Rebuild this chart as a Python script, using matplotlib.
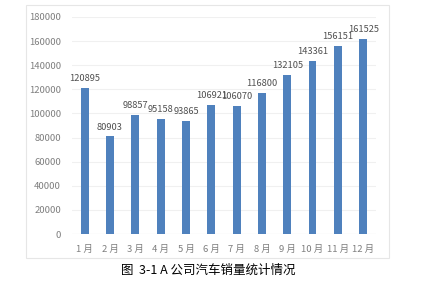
import matplotlib
matplotlib.use('Agg')
import matplotlib.pyplot as plt
from matplotlib.patches import Rectangle

plt.rcParams['font.family'] = ['Noto Sans CJK SC', 'DejaVu Sans']

months = ['1 月', '2 月', '3 月', '4 月', '5 月', '6 月', '7 月', '8 月', '9 月', '10 月', '11 月', '12 月']
sales = [120895, 80903, 98857, 95158, 93865, 106921, 106070, 116800, 132105, 143361, 156151, 161525]
yticks = [0, 20000, 40000, 60000, 80000, 100000, 120000, 140000, 160000, 180000]

fig = plt.figure(figsize=(4.29, 2.82), dpi=100)
fig.patches.append(Rectangle((0.061, 0.085), 0.846, 0.897, transform=fig.transFigure,
                             fill=False, edgecolor='#e6e6e6', linewidth=0.8))
ax = fig.add_axes([0.168, 0.170, 0.708, 0.770])

x = range(len(months))
ax.bar(x, sales, width=0.31, color='#4f81bd', zorder=3)
for i, v in enumerate(sales):
    ax.text(i, v + 4000, str(v), ha='center', va='bottom', fontsize=6.7, color='#505050', zorder=4)

ax.set_xlim(-0.5, 11.5)
ax.set_ylim(0, 180000)
ax.set_yticks(yticks)
ax.set_yticklabels([str(t) for t in yticks])
ax.set_xticks(list(x))
ax.set_xticklabels(months)
ax.tick_params(axis='both', length=0, labelsize=6.8, labelcolor='#7f7f7f')
ax.tick_params(axis='x', pad=8)
ax.tick_params(axis='y', pad=8)
ax.grid(axis='y', color='#f0f0f0', linewidth=0.8, zorder=0)
for s in ax.spines.values():
    s.set_visible(False)
ax.axhline(0, color='#e0e0e0', linewidth=0.8, zorder=2)

fig.text(0.485, 0.042, '图  3-1 A 公司汽车销量统计情况', ha='center', va='center', fontsize=9, color='black')

fig.savefig('out.png', dpi=100, facecolor='white')
